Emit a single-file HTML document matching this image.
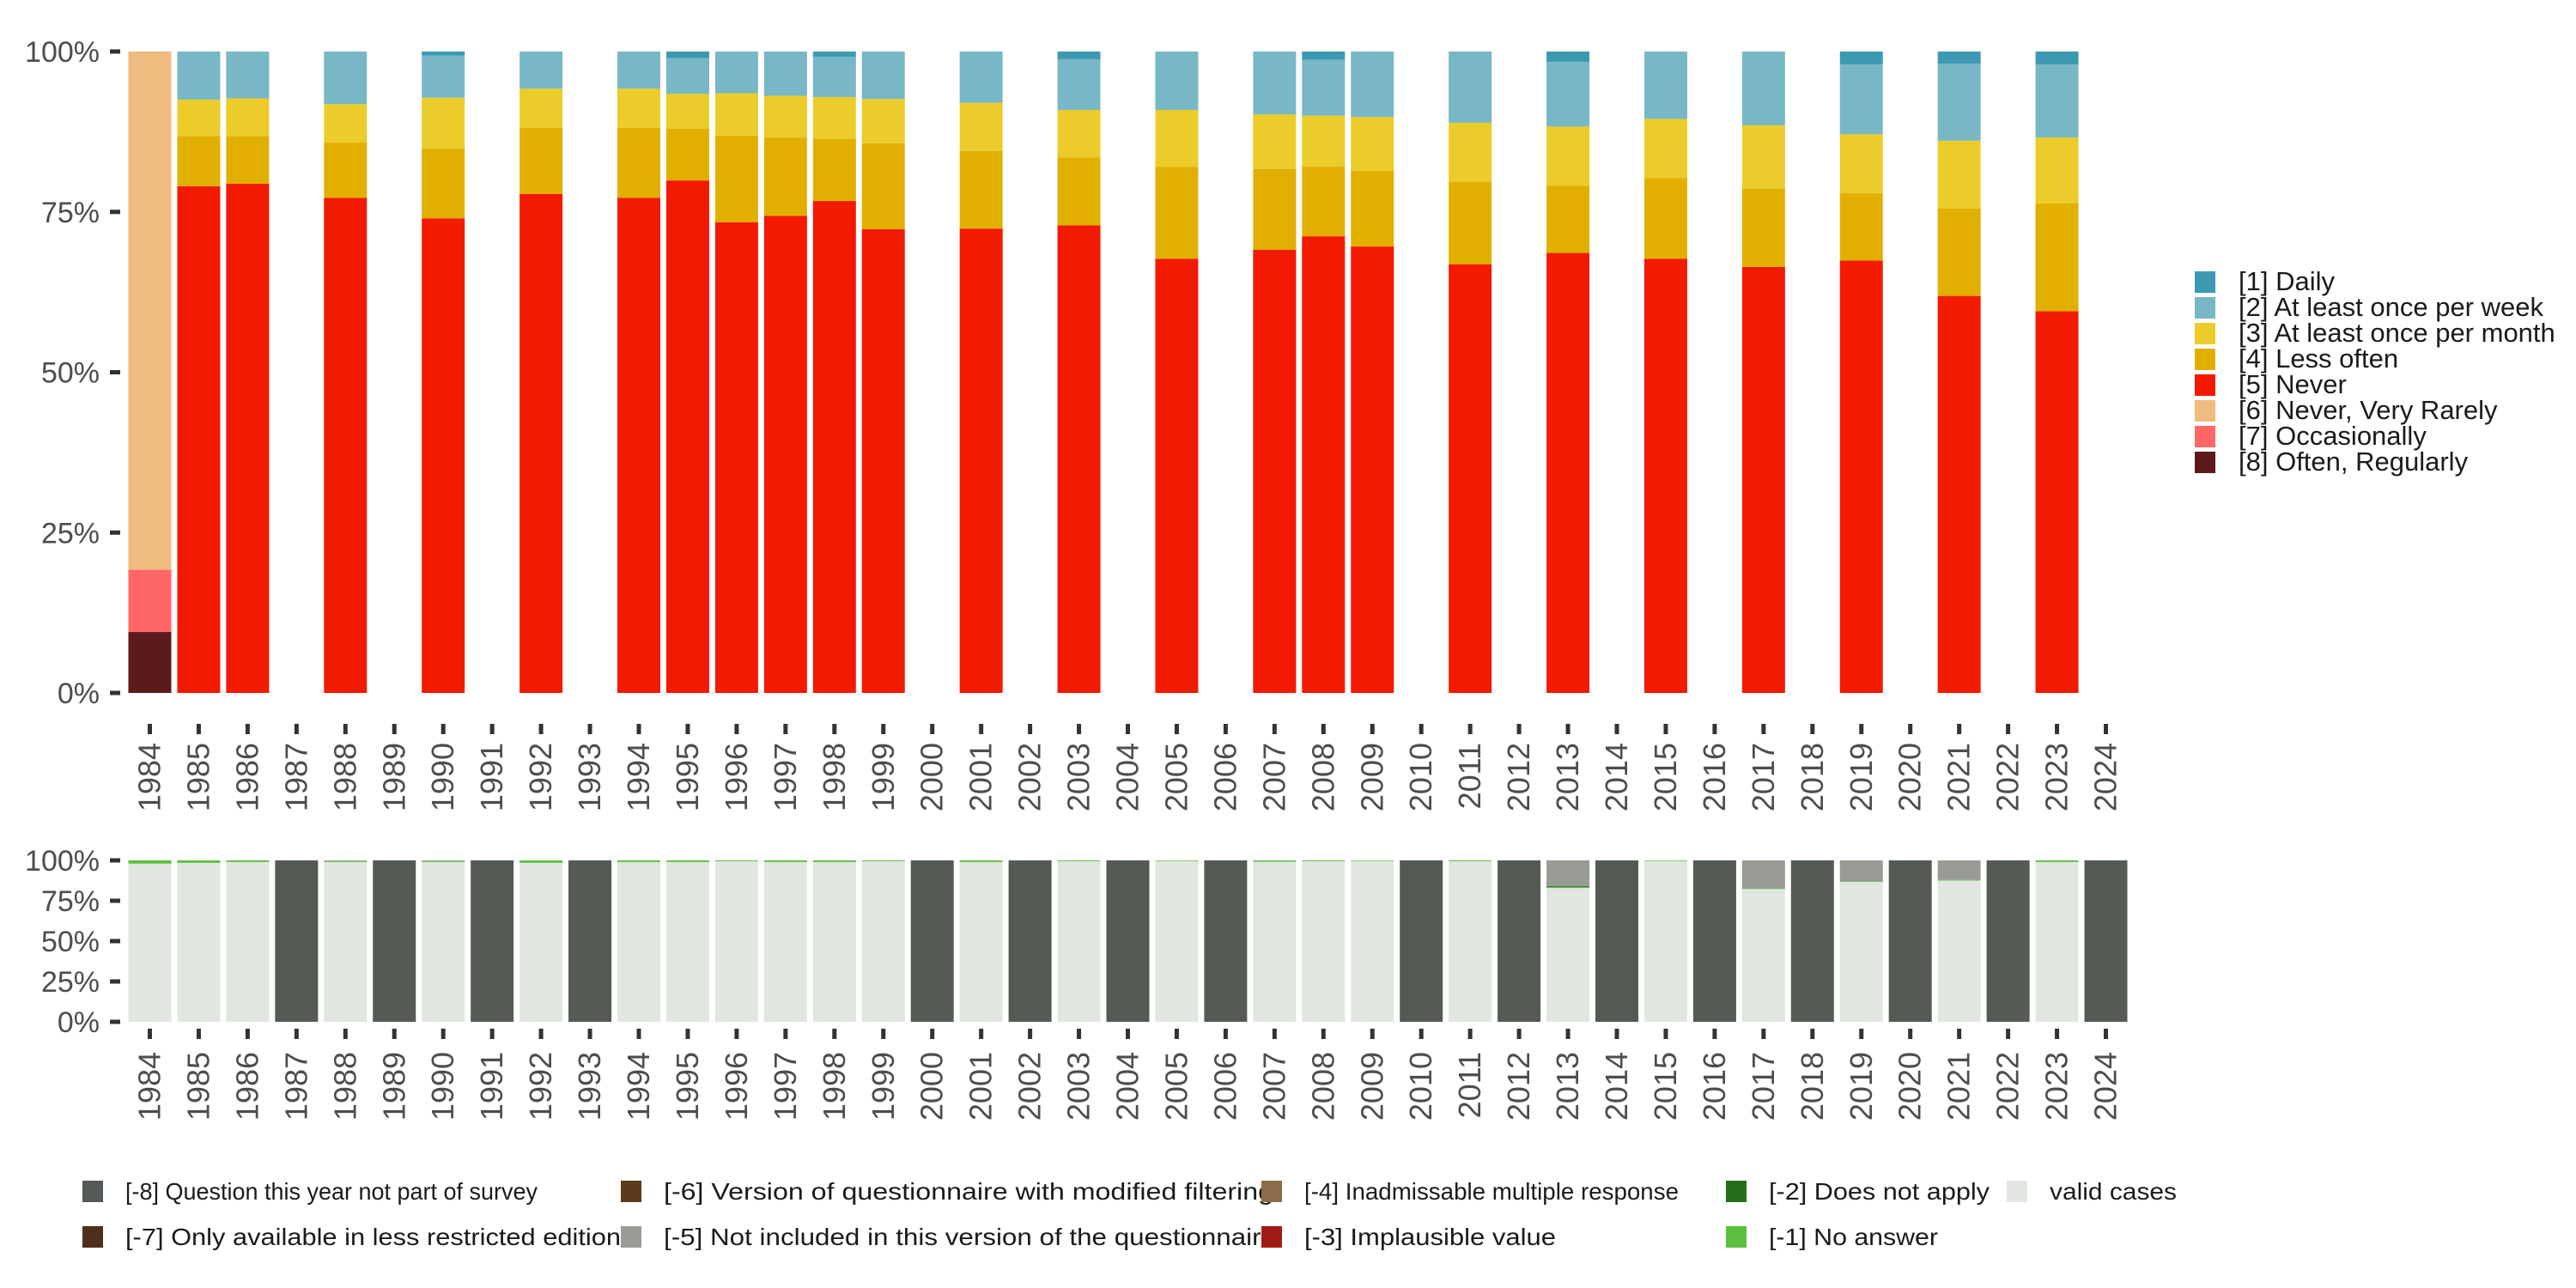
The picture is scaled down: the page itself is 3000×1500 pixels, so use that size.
<!DOCTYPE html>
<html><head><meta charset="utf-8"><style>
html,body{margin:0;padding:0;background:#fff}
svg{display:block;font-family:"Liberation Sans",sans-serif}
</style></head><body>
<svg id="c" width="3000" height="1500" viewBox="0 0 3000 1500" xmlns="http://www.w3.org/2000/svg">
<g id="top"></g>
<g id="bot"></g>
<g id="leg"></g>
<g id="leg2"></g>
</svg>
<script>
const allYears = [];
for (let y = 1984; y <= 2024; y++) allYears.push(y);
const topYears = [1984,1985,1986,1988,1990,1992,1994,1995,1996,1997,1998,1999,2001,2003,2005,2007,2008,2009,2011,2013,2015,2017,2019,2021,2023];
const s8 = [9.5,0,0,0,0,0,0,0,0,0,0,0,0,0,0,0,0,0,0,0,0,0,0,0,0];
const s7 = [9.7,0,0,0,0,0,0,0,0,0,0,0,0,0,0,0,0,0,0,0,0,0,0,0,0];
const s6 = [80.8,0,0,0,0,0,0,0,0,0,0,0,0,0,0,0,0,0,0,0,0,0,0,0,0];
const s5 = [0,79.0,79.4,77.2,74.0,77.8,77.2,79.9,73.4,74.4,76.7,72.3,72.4,72.9,67.7,69.1,71.2,69.6,66.8,68.6,67.7,66.4,67.4,61.9,59.5];
const s4 = [0,7.8,7.4,8.6,10.9,10.3,10.9,8.1,13.5,12.2,9.7,13.4,12.1,10.6,14.3,12.6,10.9,11.8,12.9,10.5,12.6,12.2,10.5,13.6,16.8];
const s3 = [0,5.7,5.9,6.0,7.9,6.1,6.1,5.4,6.6,6.5,6.5,6.9,7.5,7.4,8.9,8.5,7.9,8.4,9.2,9.2,9.2,9.9,9.2,10.6,10.3];
const s2 = [0,7.5,7.3,8.2,6.6,5.8,5.8,5.6,6.5,6.9,6.3,7.4,8.0,7.9,9.1,9.8,8.7,10.2,11.1,10.1,10.5,11.5,10.9,12.0,11.4];
const s1 = [0,0,0,0,0.6,0,0,1.0,0,0,0.8,0,0,1.2,0,0,1.3,0,0,1.6,0,0,2.0,1.9,2.0];
const topTicks = [0,25,50,75,100];
const topTickLabels = ["0%","25%","50%","75%","100%"];

// bottom chart (per year 1984..2024)
const mValid = [98,98.5,99,0,99,0,99,0,98.5,0,99,99,99.5,99,99,99.5,0,99,0,99.5,0,99.6,0,99.2,99.5,99.6,0,99.5,0,82.9,0,99.6,0,82.3,0,86.7,0,87.5,0,99,0];
const mNoAns = [2,1.5,1,0,0.6,0,0.6,0,1.5,0,1,1,0.5,1,1,0.5,0,1,0,0.5,0,0.4,0,0.8,0.5,0.4,0,0.5,0,0.5,0,0.4,0,0.4,0,0.3,0,0.4,0,1,0];
const mNotApply = [0,0,0,0,0,0,0,0,0,0,0,0,0,0,0,0,0,0,0,0,0,0,0,0,0,0,0,0,0,0.6,0,0,0,0,0,0,0,0,0,0,0];
const mNotIncl = [0,0,0,0,0.4,0,0.4,0,0,0,0,0,0,0,0,0,0,0,0,0,0,0,0,0,0,0,0,0,0,16,0,0,0,17.3,0,13,0,12.1,0,0,0];
const mNotPart = [0,0,0,100,0,100,0,100,0,100,0,0,0,0,0,0,100,0,100,0,100,0,100,0,0,0,100,0,100,0,100,0,100,0,100,0,100,0,100,0,100];

const NS = "http://www.w3.org/2000/svg";
function el(tag, attrs, parent, txt) {
  const e = document.createElementNS(NS, tag);
  for (const k in attrs) e.setAttribute(k, attrs[k]);
  if (txt !== undefined) e.textContent = txt;
  parent.appendChild(e);
  return e;
}
const X0 = 174.5, PITCH = 56.95, BW = 50;
const xC = y => X0 + (y - 1984) * PITCH;

function axes(g, yTop, yBot, yearLabelTop, tickOff, name) {
  const yS = v => yBot - (v / 100) * (yBot - yTop);
  topTicks.forEach((t, i) => {
    const tk = el("rect", {x:128, y:yS(t)-2.5, width:12, height:5, fill:"#333"}, g);
    
    
    const lb = el("text", {x:116, y:yS(t)+12, "text-anchor":"end", "font-size":34, fill:"#4d4d4d"}, g, topTickLabels[i]);
    
    
  });
  allYears.forEach(y => {
    const tk = el("rect", {x:xC(y)-2.5, y:yBot+tickOff, width:5, height:12, fill:"#333"}, g);
    
    
    const cx = xC(y) + 12, cy = yearLabelTop;
    const lb = el("text", {x:cx, y:cy, "text-anchor":"end", "font-size":36, fill:"#4d4d4d", transform:`rotate(-90 ${cx} ${cy})`}, g, String(y));
    
    
  });
  return yS;
}

// top chart
const gt = document.getElementById("top");
const T_TOP = 60, T_BOT = 807;
const yT = axes(gt, T_TOP, T_BOT, 865, 36, "top");
const topSeries = [
  [s8, "#5c1a1a", "often-regularly"],
  [s7, "#ff6666", "occasionally"],
  [s6, "#f0bb7e", "never-very-rarely"],
  [s5, "#f21a00", "never"],
  [s4, "#e1af00", "less-often"],
  [s3, "#ebcc2a", "once-per-month"],
  [s2, "#78b7c5", "once-per-week"],
  [s1, "#3b9ab2", "daily"]
];
topYears.forEach((yr, i) => {
  let cum = 0;
  topSeries.forEach(([arr, col, nm]) => {
    const v = arr[i];
    if (!v) return;
    const y1 = yT(cum + v), y0 = yT(cum);
    const r = el("rect", {x:xC(yr)-BW/2, y:y1, width:BW, height:y0-y1, fill:col}, gt);
    
    
    cum += v;
  });
});

// bottom chart
const gb = document.getElementById("bot");
const B_TOP = 1002, B_BOT = 1190;
const yB = axes(gb, B_TOP, B_BOT, 1225, 8, "missing");
const botSeries = [
  [mValid, "#e1e6e0", "valid"],
  [mNoAns, "#5bbf3f", "no-answer"],
  [mNotApply, "#24701a", "does-not-apply"],
  [mNotIncl, "#999c95", "not-included"],
  [mNotPart, "#535b54", "not-part-of-survey"]
];
allYears.forEach((yr, i) => {
  let cum = 0;
  botSeries.forEach(([arr, col, nm]) => {
    const v = arr[i];
    if (!v) return;
    const y1 = yB(cum + v), y0 = yB(cum);
    const r = el("rect", {x:xC(yr)-BW/2, y:y1, width:BW, height:y0-y1, fill:col}, gb);
    
    
    cum += v;
  });
});

// right legend
const legLabels = ["[1] Daily","[2] At least once per week","[3] At least once per month","[4] Less often","[5] Never","[6] Never, Very Rarely","[7] Occasionally","[8] Often, Regularly"];
const legColors = ["#3b9ab2","#78b7c5","#ebcc2a","#e1af00","#f21a00","#f0bb7e","#ff6666","#5c1a1a"];
const gl = document.getElementById("leg");
legLabels.forEach((t, i) => {
  const y = 316 + i * 30;
  const sw = el("rect", {x:2556, y:y, width:24, height:25, fill:legColors[i]}, gl);
  
  
  const tx = el("text", {x:2607, y:y+22, "font-size":31, fill:"#1a1a1a"}, gl, t);
  
  
});

// bottom legend
const leg2Labels = ["[-8] Question this year not part of survey","[-7] Only available in less restricted edition","[-6] Version of questionnaire with modified filtering","[-5] Not included in this version of the questionnaire","[-4] Inadmissable multiple response","[-3] Implausible value","[-2] Does not apply","[-1] No answer","valid cases"];
const leg2Widths = [480,577,710,713,436,293,257,197,148];
const leg2Colors = ["#535b54","#4f2f1a","#5c3a1c","#999c95","#8e6b48","#a31b17","#24701a","#5bbf3f","#e1e6e0"];
const leg2Cols = [96,723,1469,2010,2337];
const gl2 = document.getElementById("leg2");
leg2Labels.forEach((t, i) => {
  const col = Math.floor(i / 2), row = i % 2;
  const x = leg2Cols[col], y = 1375 + row * 53;
  const sw = el("rect", {x:x, y:y, width:24, height:25, fill:leg2Colors[i]}, gl2);
  
  
  const tx = el("text", {x:x+50, y:y+22, "font-size":28, fill:"#1a1a1a", textLength:leg2Widths[i], lengthAdjust:"spacingAndGlyphs"}, gl2, t);
  
  
});
</script>
</body></html>
